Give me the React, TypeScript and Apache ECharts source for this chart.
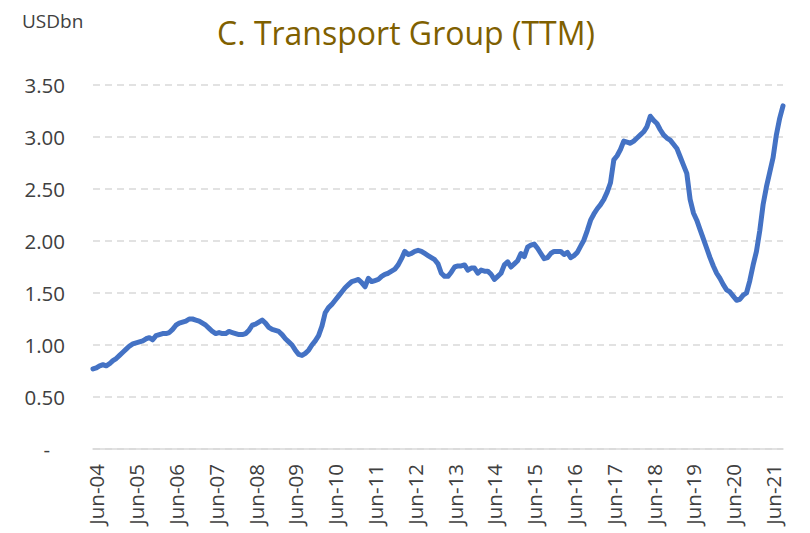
import React, { useEffect, useRef } from "react";
import * as echarts from "echarts";

// Monthly TTM values, May-04 .. Sep-21 (USD bn)
const values: number[] = [
  0.77, 0.78, 0.80, 0.81, 0.80, 0.82, 0.85, 0.87, 0.90, 0.93,
  0.96, 0.99, 1.01, 1.02, 1.03, 1.04, 1.06, 1.07, 1.05, 1.09,
  1.10, 1.11, 1.11, 1.12, 1.15, 1.19, 1.21, 1.22, 1.23, 1.25,
  1.25, 1.24, 1.23, 1.21, 1.19, 1.16, 1.13, 1.11, 1.12, 1.11,
  1.11, 1.13, 1.12, 1.11, 1.10, 1.10, 1.11, 1.14, 1.19, 1.20,
  1.22, 1.24, 1.21, 1.17, 1.15, 1.14, 1.13, 1.10, 1.06, 1.03,
  1.00, 0.95, 0.91, 0.90, 0.92, 0.95, 1.00, 1.04, 1.09, 1.18,
  1.31, 1.36, 1.39, 1.43, 1.47, 1.51, 1.55, 1.58, 1.61, 1.62,
  1.63, 1.60, 1.56, 1.64, 1.61, 1.62, 1.63, 1.66, 1.68, 1.69,
  1.71, 1.73, 1.77, 1.83, 1.90, 1.87, 1.88, 1.90, 1.91, 1.90,
  1.88, 1.86, 1.84, 1.82, 1.78, 1.69, 1.66, 1.66, 1.70, 1.75,
  1.76, 1.76, 1.77, 1.72, 1.74, 1.74, 1.69, 1.72, 1.71, 1.71,
  1.68, 1.63, 1.66, 1.69, 1.77, 1.80, 1.75, 1.78, 1.81, 1.88,
  1.85, 1.94, 1.96, 1.97, 1.93, 1.88, 1.83, 1.84, 1.88, 1.90,
  1.90, 1.90, 1.87, 1.89, 1.84, 1.86, 1.89, 1.95, 2.01, 2.10,
  2.20, 2.26, 2.31, 2.35, 2.40, 2.47, 2.56, 2.78, 2.82, 2.88,
  2.96, 2.95, 2.94, 2.96, 2.99, 3.02, 3.05, 3.10, 3.20, 3.16,
  3.13, 3.07, 3.02, 2.99, 2.97, 2.93, 2.89, 2.81, 2.73, 2.65,
  2.40, 2.27, 2.20, 2.11, 2.02, 1.93, 1.84, 1.76, 1.69, 1.64,
  1.58, 1.53, 1.51, 1.47, 1.43, 1.44, 1.48, 1.50, 1.62, 1.77,
  1.90, 2.10, 2.35, 2.52, 2.66, 2.80, 3.02, 3.18, 3.30,
];

const monthNames: string[] = ["Jan", "Feb", "Mar", "Apr", "May", "Jun", "Jul", "Aug", "Sep", "Oct", "Nov", "Dec"];
const startYear = 2004;
const startMonth = 4; // May

const categories: string[] = values.map((_, i) => {
  const m = (startMonth + i) % 12;
  const y = startYear + Math.floor((startMonth + i) / 12);
  return `${monthNames[m]}-${String(y % 100).padStart(2, "0")}`;
});

const titleText = "C. Transport Group (TTM)";
const unitText = "USDbn";

export default function App() {
  const ref = useRef<HTMLDivElement>(null);
  useEffect(() => {
    if (!ref.current) return;
    const chart = echarts.init(ref.current, undefined, { renderer: "svg" });
    chart.setOption({
      animation: false,
      backgroundColor: "#FFFFFF",
      grid: { left: 93, right: 27, top: 85, bottom: 84, containLabel: false },
      graphic: [
        {
          type: "text",
          left: 22,
          top: 11,
          style: { text: unitText, fontFamily: "Open Sans", fontSize: 19, fill: "#404040" },
        },
        {
          type: "text",
          left: 217,
          top: 16,
          style: { text: titleText, fontFamily: "Open Sans", fontSize: 32, fill: "#7F6000" },
        },
      ],
      xAxis: {
        type: "category",
        data: categories,
        boundaryGap: false,
        axisLine: { show: true, lineStyle: { color: "#D9D9D9", width: 1.5 } },
        axisTick: { show: false },
        axisLabel: {
          rotate: 90,
          margin: 15,
          interval: (index: number, value: string) => value.startsWith("Jun"),
          fontFamily: "Open Sans",
          fontSize: 20.5,
          color: "#404040",
        },
        splitLine: { show: false },
      },
      yAxis: {
        type: "value",
        min: 0,
        max: 3.5,
        interval: 0.5,
        axisLine: { show: false },
        axisTick: { show: false },
        axisLabel: {
          margin: 28,
          fontFamily: "Open Sans",
          fontSize: 20.5,
          color: "#404040",
          formatter: (v: number) => (v === 0 ? "{d|-}" : v.toFixed(2)),
          rich: { d: { fontFamily: "Open Sans", fontSize: 20.5, color: "#404040", padding: [0, 15, 0, 0] } },
        },
        splitLine: { show: true, lineStyle: { color: "#D9D9D9", width: 1.5, type: [7, 5] } },
      },
      series: [
        {
          type: "line",
          data: values,
          symbol: "none",
          smooth: false,
          lineStyle: { color: "#4472C4", width: 5, cap: "round", join: "round" },
        },
      ],
    });
    return () => chart.dispose();
  }, []);
  return <div ref={ref} style={{ position: "fixed", left: 0, top: 0, width: 810, height: 533 }} />;
}
